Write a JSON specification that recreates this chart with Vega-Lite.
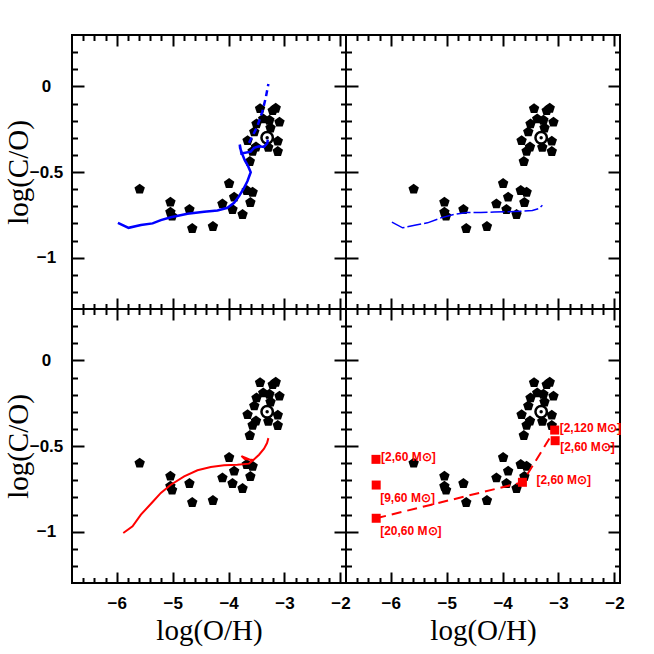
{
  "$schema": "https://vega.github.io/schema/vega-lite/v6.json",
  "background": "white",
  "padding": {"left": 3, "top": 33, "right": 5, "bottom": 5},
  "spacing": 0,
  "bounds": "flush",
  "columns": 2,
  "config": {
    "view": {"stroke": "black", "strokeWidth": 2},
    "axis": {"domain": false, "grid": false, "tickColor": "black", "tickWidth": 2, "labelColor": "black", "labelFont": "Liberation Sans", "labelFontSize": 17, "labelFontWeight": "bold", "labelOverlap": false, "labelFlush": false, "titleColor": "black", "titleFont": "Liberation Serif", "titleFontSize": 29, "titleFontWeight": "normal"}
  },
  "datasets": {
    "obs": [
      {"x": -5.59, "y": -0.60}, {"x": -5.04, "y": -0.676}, {"x": -5.04, "y": -0.735}, {"x": -5.01, "y": -0.758},
      {"x": -4.70, "y": -0.719}, {"x": -4.65, "y": -0.830}, {"x": -4.28, "y": -0.818}, {"x": -4.11, "y": -0.686},
      {"x": -3.99, "y": -0.567}, {"x": -3.90, "y": -0.647}, {"x": -3.93, "y": -0.719}, {"x": -3.75, "y": -0.748},
      {"x": -3.675, "y": -0.608}, {"x": -3.57, "y": -0.618}, {"x": -3.61, "y": -0.678}, {"x": -3.62, "y": -0.439},
      {"x": -3.66, "y": -0.317}, {"x": -3.57, "y": -0.379}, {"x": -3.51, "y": -0.354}, {"x": -3.54, "y": -0.266},
      {"x": -3.50, "y": -0.219}, {"x": -3.437, "y": -0.130}, {"x": -3.38, "y": -0.190}, {"x": -3.27, "y": -0.198},
      {"x": -3.25, "y": -0.243}, {"x": -3.211, "y": -0.142}, {"x": -3.157, "y": -0.128}, {"x": -3.09, "y": -0.209},
      {"x": -3.12, "y": -0.32}, {"x": -3.29, "y": -0.356}, {"x": -3.12, "y": -0.38}
    ],
    "sun": [{"x": -3.31, "y": -0.30}],
    "m1solid": [
      {"i": 1, "x": -5.979, "y": -0.797}, {"i": 2, "x": -5.788, "y": -0.826}, {"i": 3, "x": -5.568, "y": -0.810},
      {"i": 4, "x": -5.359, "y": -0.800}, {"i": 5, "x": -5.211, "y": -0.781}, {"i": 6, "x": -5.032, "y": -0.764},
      {"i": 7, "x": -4.734, "y": -0.744}, {"i": 8, "x": -4.437, "y": -0.732}, {"i": 9, "x": -4.199, "y": -0.725},
      {"i": 10, "x": -4.02, "y": -0.709}, {"i": 11, "x": -3.901, "y": -0.680}, {"i": 12, "x": -3.812, "y": -0.641},
      {"i": 13, "x": -3.723, "y": -0.593}, {"i": 14, "x": -3.663, "y": -0.554}, {"i": 15, "x": -3.604, "y": -0.501},
      {"i": 16, "x": -3.651, "y": -0.466}, {"i": 17, "x": -3.711, "y": -0.431}, {"i": 18, "x": -3.752, "y": -0.398},
      {"i": 19, "x": -3.794, "y": -0.359}, {"i": 20, "x": -3.80, "y": -0.34}, {"i": 21, "x": -3.77, "y": -0.392},
      {"i": 22, "x": -3.604, "y": -0.381}, {"i": 23, "x": -3.544, "y": -0.359}, {"i": 24, "x": -3.455, "y": -0.35},
      {"i": 25, "x": -3.366, "y": -0.354}, {"i": 26, "x": -3.306, "y": -0.33}, {"i": 27, "x": -3.30, "y": -0.311}
    ],
    "m1dash": [
      {"i": 1, "x": -3.634, "y": -0.33}, {"i": 2, "x": -3.485, "y": -0.233}, {"i": 3, "x": -3.395, "y": -0.146},
      {"i": 4, "x": -3.336, "y": -0.068}, {"i": 5, "x": -3.288, "y": 0.014}
    ],
    "m2": [
      {"i": 1, "x": -5.979, "y": -0.793}, {"i": 2, "x": -5.788, "y": -0.826}, {"i": 3, "x": -5.55, "y": -0.81},
      {"i": 4, "x": -5.342, "y": -0.797}, {"i": 5, "x": -5.104, "y": -0.768}, {"i": 6, "x": -4.866, "y": -0.748},
      {"i": 7, "x": -4.627, "y": -0.736}, {"i": 8, "x": -4.389, "y": -0.736}, {"i": 9, "x": -4.151, "y": -0.734},
      {"i": 10, "x": -3.913, "y": -0.732}, {"i": 11, "x": -3.675, "y": -0.729}, {"i": 12, "x": -3.467, "y": -0.725},
      {"i": 13, "x": -3.348, "y": -0.713}, {"i": 14, "x": -3.288, "y": -0.694}
    ],
    "m3": [
      {"i": 1, "x": -5.883, "y": -1.008}, {"i": 2, "x": -5.717, "y": -0.969}, {"i": 3, "x": -5.568, "y": -0.901},
      {"i": 4, "x": -5.359, "y": -0.827}, {"i": 5, "x": -5.211, "y": -0.774}, {"i": 6, "x": -5.032, "y": -0.726},
      {"i": 7, "x": -4.794, "y": -0.677}, {"i": 8, "x": -4.556, "y": -0.642}, {"i": 9, "x": -4.318, "y": -0.623},
      {"i": 10, "x": -4.08, "y": -0.613}, {"i": 11, "x": -3.842, "y": -0.609}, {"i": 12, "x": -3.634, "y": -0.603},
      {"i": 13, "x": -3.574, "y": -0.586}, {"i": 14, "x": -3.693, "y": -0.570}, {"i": 15, "x": -3.77, "y": -0.559},
      {"i": 16, "x": -3.711, "y": -0.576}, {"i": 17, "x": -3.556, "y": -0.582}, {"i": 18, "x": -3.455, "y": -0.551},
      {"i": 19, "x": -3.366, "y": -0.516}, {"i": 20, "x": -3.312, "y": -0.483}, {"i": 21, "x": -3.288, "y": -0.454}
    ],
    "m4line": [
      {"i": 1, "x": -6.26, "y": -0.922}, {"i": 2, "x": -3.645, "y": -0.712}, {"i": 3, "x": -3.068, "y": -0.407}
    ],
    "m4pts": [
      {"id": "A", "x": -6.264, "y": -0.578, "label": "[2,60 M⊙]"},
      {"id": "B", "x": -6.26, "y": -0.728, "label": "[9,60 M⊙]"},
      {"id": "C", "x": -6.26, "y": -0.922, "label": "[20,60 M⊙]"},
      {"id": "D", "x": -3.645, "y": -0.712, "label": "[2,60 M⊙]"},
      {"id": "E", "x": -3.068, "y": -0.407, "label": "[2,120 M⊙]"},
      {"id": "F", "x": -3.06, "y": -0.469, "label": "[2,60 M⊙]"}
    ]
  },
  "concat": [
    {
      "width": 274, "height": 274,
      "resolve": {"axis": {"x": "independent", "y": "independent"}},
      "layer": [
        {"data": {"name": "obs"},
         "mark": {"type": "point", "shape": "M0,-1L0.951,-0.309L0.588,0.809L-0.588,0.809L-0.951,-0.309Z", "filled": true, "fill": "black", "size": 120, "opacity": 1, "strokeWidth": 0},
         "encoding": {
           "x": {"field": "x", "type": "quantitative", "scale": {"domain": [-6.8, -1.9], "nice": false, "zero": false},
                 "axis": {"orient": "bottom", "values": [-6.6,-6.4,-6.2,-6,-5.8,-5.6,-5.4,-5.2,-5,-4.8,-4.6,-4.4,-4.2,-4,-3.8,-3.6,-3.4,-3.2,-3,-2.8,-2.6,-2.4,-2.2,-2], "tickSize": {"condition": {"test": "datum.value % 1 === 0", "value": -11}, "value": -5.5}, "labels": false, "title": null}},
           "y": {"field": "y", "type": "quantitative", "scale": {"domain": [-1.3, 0.3], "nice": false, "zero": false},
                 "axis": {"orient": "left", "values": [-1.2,-1.1,-1,-0.9,-0.8,-0.7,-0.6,-0.5,-0.4,-0.3,-0.2,-0.1,0,0.1,0.2], "tickSize": {"condition": {"test": "datum.value === 0 || datum.value === -0.5 || datum.value === -1", "value": -12}, "value": -5.5}, "labelExpr": "datum.value === 0 ? '0' : datum.value === -0.5 ? '−0.5' : datum.value === -1 ? '−1' : ''", "labelAlign": "center", "labelPadding": 38, "title": "log(C/O)", "titlePadding": -4}}
         }},
        {"data": {"name": "sun"},
         "mark": {"type": "point", "shape": "circle", "filled": true, "fill": "white", "stroke": "black", "strokeWidth": 2.5, "size": 130, "opacity": 1},
         "encoding": {
           "x": {"field": "x", "type": "quantitative", "scale": {"domain": [-6.8, -1.9], "nice": false, "zero": false},
                 "axis": {"orient": "top", "values": [-6.6,-6.4,-6.2,-6,-5.8,-5.6,-5.4,-5.2,-5,-4.8,-4.6,-4.4,-4.2,-4,-3.8,-3.6,-3.4,-3.2,-3,-2.8,-2.6,-2.4,-2.2,-2], "tickSize": {"condition": {"test": "datum.value % 1 === 0", "value": -11}, "value": -5.5}, "labels": false, "title": null}},
           "y": {"field": "y", "type": "quantitative", "scale": {"domain": [-1.3, 0.3], "nice": false, "zero": false},
                 "axis": {"orient": "right", "values": [-1.2,-1.1,-1,-0.9,-0.8,-0.7,-0.6,-0.5,-0.4,-0.3,-0.2,-0.1,0,0.1,0.2], "tickSize": {"condition": {"test": "datum.value === 0 || datum.value === -0.5 || datum.value === -1", "value": -12}, "value": -5.5}, "labels": false, "title": null}}
         }},
        {"data": {"name": "sun"},
         "mark": {"type": "point", "shape": "circle", "filled": true, "fill": "black", "size": 12, "opacity": 1, "strokeWidth": 0},
         "encoding": {"x": {"field": "x", "type": "quantitative", "axis": null}, "y": {"field": "y", "type": "quantitative", "axis": null}}},
        {"data": {"name": "m1solid"},
         "mark": {"type": "line", "color": "#0000ff", "strokeWidth": 2.5},
         "encoding": {"x": {"field": "x", "type": "quantitative", "axis": null}, "y": {"field": "y", "type": "quantitative", "axis": null}, "order": {"field": "i", "type": "quantitative"}}},
        {"data": {"name": "m1dash"},
         "mark": {"type": "line", "color": "#0000ff", "strokeWidth": 2.5, "strokeDash": [6, 4]},
         "encoding": {"x": {"field": "x", "type": "quantitative", "axis": null}, "y": {"field": "y", "type": "quantitative", "axis": null}, "order": {"field": "i", "type": "quantitative"}}}
      ]
    },
    {
      "width": 274, "height": 274,
      "resolve": {"axis": {"x": "independent", "y": "independent"}},
      "layer": [
        {"data": {"name": "obs"},
         "mark": {"type": "point", "shape": "M0,-1L0.951,-0.309L0.588,0.809L-0.588,0.809L-0.951,-0.309Z", "filled": true, "fill": "black", "size": 120, "opacity": 1, "strokeWidth": 0},
         "encoding": {
           "x": {"field": "x", "type": "quantitative", "scale": {"domain": [-6.8, -1.9], "nice": false, "zero": false},
                 "axis": {"orient": "bottom", "values": [-6.6,-6.4,-6.2,-6,-5.8,-5.6,-5.4,-5.2,-5,-4.8,-4.6,-4.4,-4.2,-4,-3.8,-3.6,-3.4,-3.2,-3,-2.8,-2.6,-2.4,-2.2,-2], "tickSize": {"condition": {"test": "datum.value % 1 === 0", "value": -11}, "value": -5.5}, "labels": false, "title": null}},
           "y": {"field": "y", "type": "quantitative", "scale": {"domain": [-1.3, 0.3], "nice": false, "zero": false},
                 "axis": {"orient": "left", "values": [-1.2,-1.1,-1,-0.9,-0.8,-0.7,-0.6,-0.5,-0.4,-0.3,-0.2,-0.1,0,0.1,0.2], "tickSize": {"condition": {"test": "datum.value === 0 || datum.value === -0.5 || datum.value === -1", "value": -12}, "value": -5.5}, "labels": false, "title": null}}
         }},
        {"data": {"name": "sun"},
         "mark": {"type": "point", "shape": "circle", "filled": true, "fill": "white", "stroke": "black", "strokeWidth": 2.5, "size": 130, "opacity": 1},
         "encoding": {
           "x": {"field": "x", "type": "quantitative", "scale": {"domain": [-6.8, -1.9], "nice": false, "zero": false},
                 "axis": {"orient": "top", "values": [-6.6,-6.4,-6.2,-6,-5.8,-5.6,-5.4,-5.2,-5,-4.8,-4.6,-4.4,-4.2,-4,-3.8,-3.6,-3.4,-3.2,-3,-2.8,-2.6,-2.4,-2.2,-2], "tickSize": {"condition": {"test": "datum.value % 1 === 0", "value": -11}, "value": -5.5}, "labels": false, "title": null}},
           "y": {"field": "y", "type": "quantitative", "scale": {"domain": [-1.3, 0.3], "nice": false, "zero": false},
                 "axis": {"orient": "right", "values": [-1.2,-1.1,-1,-0.9,-0.8,-0.7,-0.6,-0.5,-0.4,-0.3,-0.2,-0.1,0,0.1,0.2], "tickSize": {"condition": {"test": "datum.value === 0 || datum.value === -0.5 || datum.value === -1", "value": -12}, "value": -5.5}, "labels": false, "title": null}}
         }},
        {"data": {"name": "sun"},
         "mark": {"type": "point", "shape": "circle", "filled": true, "fill": "black", "size": 12, "opacity": 1, "strokeWidth": 0},
         "encoding": {"x": {"field": "x", "type": "quantitative", "axis": null}, "y": {"field": "y", "type": "quantitative", "axis": null}}},
        {"data": {"name": "m2"},
         "mark": {"type": "line", "color": "#0000ff", "strokeWidth": 1.5, "strokeDash": [14, 3]},
         "encoding": {"x": {"field": "x", "type": "quantitative", "axis": null}, "y": {"field": "y", "type": "quantitative", "axis": null}, "order": {"field": "i", "type": "quantitative"}}}
      ]
    },
    {
      "width": 274, "height": 274,
      "resolve": {"axis": {"x": "independent", "y": "independent"}},
      "layer": [
        {"data": {"name": "obs"},
         "mark": {"type": "point", "shape": "M0,-1L0.951,-0.309L0.588,0.809L-0.588,0.809L-0.951,-0.309Z", "filled": true, "fill": "black", "size": 120, "opacity": 1, "strokeWidth": 0},
         "encoding": {
           "x": {"field": "x", "type": "quantitative", "scale": {"domain": [-6.8, -1.9], "nice": false, "zero": false},
                 "axis": {"orient": "bottom", "values": [-6.6,-6.4,-6.2,-6,-5.8,-5.6,-5.4,-5.2,-5,-4.8,-4.6,-4.4,-4.2,-4,-3.8,-3.6,-3.4,-3.2,-3,-2.8,-2.6,-2.4,-2.2,-2], "tickSize": {"condition": {"test": "datum.value % 1 === 0", "value": -11}, "value": -5.5}, "labelExpr": "datum.value % 1 === 0 ? format(datum.value, 'd') : ''", "labelPadding": 23, "title": "log(O/H)", "titlePadding": 0}},
           "y": {"field": "y", "type": "quantitative", "scale": {"domain": [-1.3, 0.3], "nice": false, "zero": false},
                 "axis": {"orient": "left", "values": [-1.2,-1.1,-1,-0.9,-0.8,-0.7,-0.6,-0.5,-0.4,-0.3,-0.2,-0.1,0,0.1,0.2], "tickSize": {"condition": {"test": "datum.value === 0 || datum.value === -0.5 || datum.value === -1", "value": -12}, "value": -5.5}, "labelExpr": "datum.value === 0 ? '0' : datum.value === -0.5 ? '−0.5' : datum.value === -1 ? '−1' : ''", "labelAlign": "center", "labelPadding": 38, "title": "log(C/O)", "titlePadding": -4}}
         }},
        {"data": {"name": "sun"},
         "mark": {"type": "point", "shape": "circle", "filled": true, "fill": "white", "stroke": "black", "strokeWidth": 2.5, "size": 130, "opacity": 1},
         "encoding": {
           "x": {"field": "x", "type": "quantitative", "scale": {"domain": [-6.8, -1.9], "nice": false, "zero": false},
                 "axis": {"orient": "top", "values": [-6.6,-6.4,-6.2,-6,-5.8,-5.6,-5.4,-5.2,-5,-4.8,-4.6,-4.4,-4.2,-4,-3.8,-3.6,-3.4,-3.2,-3,-2.8,-2.6,-2.4,-2.2,-2], "tickSize": {"condition": {"test": "datum.value % 1 === 0", "value": -11}, "value": -5.5}, "labels": false, "title": null}},
           "y": {"field": "y", "type": "quantitative", "scale": {"domain": [-1.3, 0.3], "nice": false, "zero": false},
                 "axis": {"orient": "right", "values": [-1.2,-1.1,-1,-0.9,-0.8,-0.7,-0.6,-0.5,-0.4,-0.3,-0.2,-0.1,0,0.1,0.2], "tickSize": {"condition": {"test": "datum.value === 0 || datum.value === -0.5 || datum.value === -1", "value": -12}, "value": -5.5}, "labels": false, "title": null}}
         }},
        {"data": {"name": "sun"},
         "mark": {"type": "point", "shape": "circle", "filled": true, "fill": "black", "size": 12, "opacity": 1, "strokeWidth": 0},
         "encoding": {"x": {"field": "x", "type": "quantitative", "axis": null}, "y": {"field": "y", "type": "quantitative", "axis": null}}},
        {"data": {"name": "m3"},
         "mark": {"type": "line", "color": "#ff0000", "strokeWidth": 2},
         "encoding": {"x": {"field": "x", "type": "quantitative", "axis": null}, "y": {"field": "y", "type": "quantitative", "axis": null}, "order": {"field": "i", "type": "quantitative"}}}
      ]
    },
    {
      "width": 274, "height": 274,
      "resolve": {"axis": {"x": "independent", "y": "independent"}},
      "layer": [
        {"data": {"name": "obs"},
         "mark": {"type": "point", "shape": "M0,-1L0.951,-0.309L0.588,0.809L-0.588,0.809L-0.951,-0.309Z", "filled": true, "fill": "black", "size": 120, "opacity": 1, "strokeWidth": 0},
         "encoding": {
           "x": {"field": "x", "type": "quantitative", "scale": {"domain": [-6.8, -1.9], "nice": false, "zero": false},
                 "axis": {"orient": "bottom", "values": [-6.6,-6.4,-6.2,-6,-5.8,-5.6,-5.4,-5.2,-5,-4.8,-4.6,-4.4,-4.2,-4,-3.8,-3.6,-3.4,-3.2,-3,-2.8,-2.6,-2.4,-2.2,-2], "tickSize": {"condition": {"test": "datum.value % 1 === 0", "value": -11}, "value": -5.5}, "labelExpr": "datum.value % 1 === 0 ? format(datum.value, 'd') : ''", "labelPadding": 23, "title": "log(O/H)", "titlePadding": 0}},
           "y": {"field": "y", "type": "quantitative", "scale": {"domain": [-1.3, 0.3], "nice": false, "zero": false},
                 "axis": {"orient": "left", "values": [-1.2,-1.1,-1,-0.9,-0.8,-0.7,-0.6,-0.5,-0.4,-0.3,-0.2,-0.1,0,0.1,0.2], "tickSize": {"condition": {"test": "datum.value === 0 || datum.value === -0.5 || datum.value === -1", "value": -12}, "value": -5.5}, "labels": false, "title": null}}
         }},
        {"data": {"name": "sun"},
         "mark": {"type": "point", "shape": "circle", "filled": true, "fill": "white", "stroke": "black", "strokeWidth": 2.5, "size": 130, "opacity": 1},
         "encoding": {
           "x": {"field": "x", "type": "quantitative", "scale": {"domain": [-6.8, -1.9], "nice": false, "zero": false},
                 "axis": {"orient": "top", "values": [-6.6,-6.4,-6.2,-6,-5.8,-5.6,-5.4,-5.2,-5,-4.8,-4.6,-4.4,-4.2,-4,-3.8,-3.6,-3.4,-3.2,-3,-2.8,-2.6,-2.4,-2.2,-2], "tickSize": {"condition": {"test": "datum.value % 1 === 0", "value": -11}, "value": -5.5}, "labels": false, "title": null}},
           "y": {"field": "y", "type": "quantitative", "scale": {"domain": [-1.3, 0.3], "nice": false, "zero": false},
                 "axis": {"orient": "right", "values": [-1.2,-1.1,-1,-0.9,-0.8,-0.7,-0.6,-0.5,-0.4,-0.3,-0.2,-0.1,0,0.1,0.2], "tickSize": {"condition": {"test": "datum.value === 0 || datum.value === -0.5 || datum.value === -1", "value": -12}, "value": -5.5}, "labels": false, "title": null}}
         }},
        {"data": {"name": "sun"},
         "mark": {"type": "point", "shape": "circle", "filled": true, "fill": "black", "size": 12, "opacity": 1, "strokeWidth": 0},
         "encoding": {"x": {"field": "x", "type": "quantitative", "axis": null}, "y": {"field": "y", "type": "quantitative", "axis": null}}},
        {"data": {"name": "m4line"},
         "mark": {"type": "line", "color": "#ff0000", "strokeWidth": 2, "strokeDash": [10, 6]},
         "encoding": {"x": {"field": "x", "type": "quantitative", "axis": null}, "y": {"field": "y", "type": "quantitative", "axis": null}, "order": {"field": "i", "type": "quantitative"}}},
        {"data": {"name": "m4pts"},
         "mark": {"type": "point", "shape": "square", "filled": true, "fill": "#ff0000", "size": 81, "opacity": 1, "strokeWidth": 0},
         "encoding": {"x": {"field": "x", "type": "quantitative", "axis": null}, "y": {"field": "y", "type": "quantitative", "axis": null}}},
        {"data": {"name": "m4pts"},
         "transform": [{"filter": "datum.id === 'A' || datum.id === 'E'"}],
         "mark": {"type": "text", "align": "left", "baseline": "middle", "dx": 5, "dy": -2, "font": "Liberation Sans", "fontWeight": "bold", "fontSize": 12, "color": "#ff0000"},
         "encoding": {"x": {"field": "x", "type": "quantitative", "axis": null}, "y": {"field": "y", "type": "quantitative", "axis": null}, "text": {"field": "label"}}},
        {"data": {"name": "m4pts"},
         "transform": [{"filter": "datum.id === 'B' || datum.id === 'C'"}],
         "mark": {"type": "text", "align": "left", "baseline": "middle", "dx": 4, "dy": 13, "font": "Liberation Sans", "fontWeight": "bold", "fontSize": 12, "color": "#ff0000"},
         "encoding": {"x": {"field": "x", "type": "quantitative", "axis": null}, "y": {"field": "y", "type": "quantitative", "axis": null}, "text": {"field": "label"}}},
        {"data": {"name": "m4pts"},
         "transform": [{"filter": "datum.id === 'D'"}],
         "mark": {"type": "text", "align": "left", "baseline": "middle", "dx": 14, "dy": -2, "font": "Liberation Sans", "fontWeight": "bold", "fontSize": 12, "color": "#ff0000"},
         "encoding": {"x": {"field": "x", "type": "quantitative", "axis": null}, "y": {"field": "y", "type": "quantitative", "axis": null}, "text": {"field": "label"}}},
        {"data": {"name": "m4pts"},
         "transform": [{"filter": "datum.id === 'F'"}],
         "mark": {"type": "text", "align": "left", "baseline": "middle", "dx": 5, "dy": 6, "font": "Liberation Sans", "fontWeight": "bold", "fontSize": 12, "color": "#ff0000"},
         "encoding": {"x": {"field": "x", "type": "quantitative", "axis": null}, "y": {"field": "y", "type": "quantitative", "axis": null}, "text": {"field": "label"}}}
      ]
    }
  ]
}
